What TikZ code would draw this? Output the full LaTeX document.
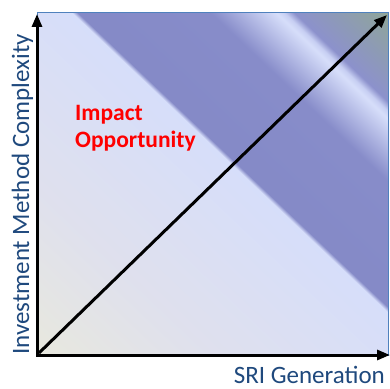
\documentclass[tikz,border=0pt]{standalone}
\usepackage{fontspec}
\setmainfont{Carlito}
\usetikzlibrary{arrows.meta}
\definecolor{axisblue}{HTML}{1F497D}
\definecolor{frameblue}{HTML}{4F81BD}
\pgfdeclarehorizontalshading{bands}{130bp}{rgb(0bp)=(.91,.91,.87); rgb(10.3bp)=(.91,.91,.87);
  rgb(34.4bp)=(.875,.88,.93); rgb(65.6bp)=(.84,.87,.98); rgb(66.4bp)=(.52,.54,.78);
  rgb(85bp)=(.53,.55,.79); rgb(94.2bp)=(.84,.87,.98); rgb(95.3bp)=(.78,.81,.95);
  rgb(96.7bp)=(.55,.57,.80); rgb(109.7bp)=(.56,.65,.60); rgb(120bp)=(.56,.65,.60)}
\tikzstyle{axis} = [line width=3pt,line cap=rect,-{Triangle[length=13pt,width=10pt]}]
\tikzstyle{axislabel} = [text=axisblue,font=\fontsize{25}{30}\selectfont,inner sep=0pt]

\begin{document}
\begin{tikzpicture}[x=1pt,y=1pt]
\useasboundingbox (0,0) rectangle (390,388);
\begin{scope}
  \clip (37,33) rectangle (388,375);
  \node[inner sep=0pt,rotate=46.5,scale=4.9] (bands) at (212.5,204) {\pgfuseshading{bands}};
\end{scope}
\draw[frameblue,line width=1pt] (37,33) rectangle (388,375);
\coordinate (origin) at (37,33);
\coordinate (ytop) at (37,374);
\coordinate (xend) at (390,33);
\coordinate (dstart) at (40,36);
\coordinate (dend) at (387,373);
\draw[axis] (origin) -- (ytop);
\draw[axis] (origin) -- (xend);
\draw[axis] (dstart) -- (dend);
\node[axislabel,rotate=90,anchor=base west] (ylabel) at (29,33) {Investment Method Complexity};
\node[axislabel,anchor=base east] (xlabel) at (385,4.5) {SRI Generation};
\node[text=red,font=\bfseries\fontsize{23.5}{27}\selectfont,align=left,
    anchor=north west,inner sep=0pt] (impact) at (75,283) {Impact\\Opportunity};
\end{tikzpicture}
\end{document}
